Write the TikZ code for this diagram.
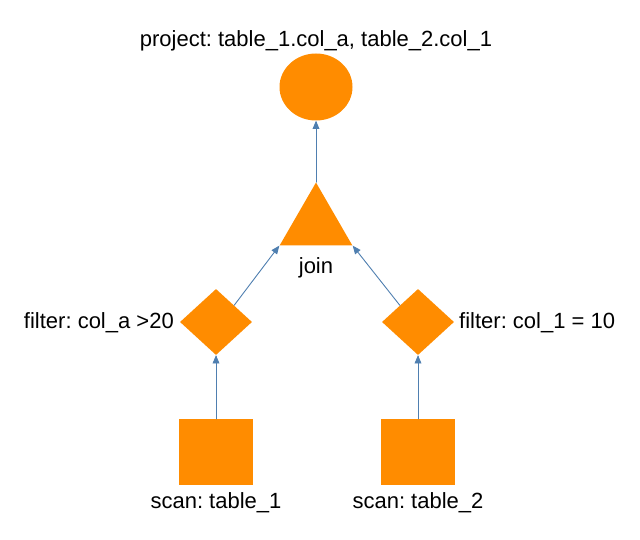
\documentclass[tikz,border=0pt]{standalone}
\usepackage{fontspec}
\setmainfont{Liberation Sans}
\usepackage{tikz}
\usetikzlibrary{arrows,shapes.geometric}
\definecolor{opfill}{HTML}{FF8C00}
\definecolor{edgeblue}{HTML}{4F7FB0}
\frenchspacing

\begin{document}
\begin{tikzpicture}[line cap=round,line join=round,>=triangle 45,x=1pt,y=-1pt,
  op/.style={fill=opfill,draw=none,inner sep=0pt},
  lbl/.style={font=\fontsize{22}{26}\selectfont,inner sep=0pt},
  flow/.style={->,draw=edgeblue,line width=0.9pt}]
\useasboundingbox (0,0) rectangle (640,540);
% operators
\node[op,ellipse,minimum width=73,minimum height=67] (proj) at (316,87) {};
\node[op,regular polygon,regular polygon sides=3,minimum size=84] (join) at (316,224.5) {};
\node[op,diamond,minimum width=72,minimum height=66] (filtA) at (216,322) {};
\node[op,diamond,minimum width=72,minimum height=66] (filtB) at (418,322) {};
\node[op,rectangle,minimum width=74,minimum height=66] (scanA) at (216,452) {};
\node[op,rectangle,minimum width=74,minimum height=66] (scanB) at (418,452) {};
% labels
\node[lbl] (projlbl) at (316,41) {project: table\_1.col\_a, table\_2.col\_1};
\node[lbl] (joinlbl) at (316,268) {join};
\node[lbl,anchor=east] (filtAlbl) at (174,323) {filter: col\_a >20};
\node[lbl,anchor=west] (filtBlbl) at (459,323) {filter: col\_1 = 10};
\node[lbl] (scanAlbl) at (216,503) {scan: table\_1};
\node[lbl] (scanBlbl) at (418,503) {scan: table\_2};
% edges
\draw[flow] (scanA.north) -- (filtA.south);
\draw[flow] (scanB.north) -- (filtB.south);
\draw[flow] (filtA.north east) -- (join.corner 2);
\draw[flow] (filtB.north west) -- (join.corner 3);
\draw[flow] (join.corner 1) -- (proj.south);
\end{tikzpicture}
\end{document}
